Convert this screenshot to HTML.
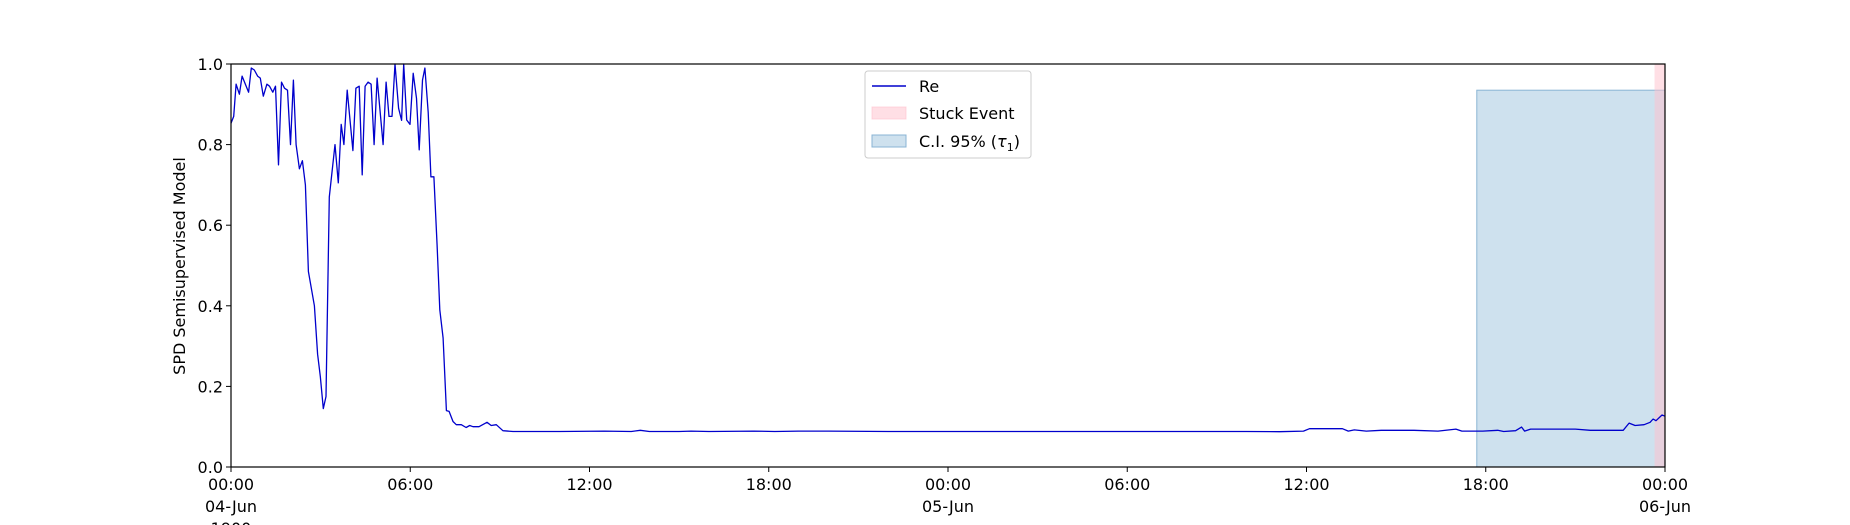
<!DOCTYPE html>
<html><head><meta charset="utf-8">
<style>
html,body{margin:0;padding:0;background:#fff;}
svg{display:block;font-family:"DejaVu Sans","Liberation Sans",sans-serif;}
</style></head>
<body>
<svg id="chart" width="1850" height="525" viewBox="0 0 1850 525">
<rect x="0" y="0" width="1850" height="525" fill="#fff"/>
<g id="bands"></g>
<g id="series"></g>
<g id="axes"></g>
<text transform="translate(185,266) rotate(-90)" text-anchor="middle" font-size="16" fill="#000">SPD Semisupervised Model</text>
<g id="legend">
  <rect x="865" y="71" width="166" height="87" rx="3" fill="#fff" stroke="#ccc" stroke-width="1"/>
  <g>
    <line x1="872" y1="86" x2="906" y2="86" stroke="#0000cc" stroke-width="1.5"/>
    <text x="919" y="92" font-size="16">Re</text>
  </g>
  <g>
    <rect x="872" y="107" width="34" height="12" fill="#ffc0cb" fill-opacity="0.5" stroke="#ffc0cb" stroke-opacity="0.6"/>
    <text x="919" y="119" font-size="16">Stuck Event</text>
  </g>
  <g>
    <rect x="872" y="135" width="34" height="12" fill="#a6c8e0" fill-opacity="0.55" stroke="#8ab4d4"/>
    <text x="919" y="147" font-size="16">C.I. 95% (<tspan font-style="italic">τ</tspan><tspan font-size="11" dy="4">1</tspan><tspan dy="-4">)</tspan></text>
  </g>
</g>
</svg>
<script>
// data (hours since 04-Jun 00:00, value)
const hours = [0,0.09,0.17,0.28,0.37,0.59,0.68,0.78,0.89,0.98,1.08,1.2,1.29,1.4,1.49,1.59,1.69,1.79,1.89,1.99,2.09,2.18,2.29,2.39,2.49,2.59,2.79,2.9,2.99,3.09,3.18,3.29,3.48,3.59,3.69,3.78,3.89,4.08,4.18,4.29,4.39,4.49,4.59,4.69,4.79,4.89,5.09,5.19,5.29,5.39,5.49,5.61,5.71,5.78,5.88,5.99,6.1,6.21,6.3,6.41,6.49,6.6,6.69,6.79,6.9,6.99,7.1,7.21,7.3,7.43,7.54,7.71,7.87,7.99,8.1,8.3,8.57,8.71,8.88,9.1,9.44,11,12.5,13.4,13.7,14,15,15.4,16,17.5,18.2,19,20,22,26,30,34,35.1,35.9,36.1,37.2,37.4,37.6,38.0,38.5,39.6,40.4,41.0,41.2,41.9,42.4,42.6,43.0,43.2,43.3,43.5,45.0,45.5,46.6,46.8,47.0,47.3,47.5,47.6,47.7,47.9,48.0];
const values = [0.853,0.87,0.95,0.925,0.97,0.93,0.99,0.985,0.97,0.965,0.92,0.95,0.945,0.93,0.945,0.75,0.955,0.94,0.935,0.80,0.96,0.80,0.74,0.76,0.70,0.485,0.40,0.28,0.225,0.145,0.175,0.67,0.80,0.705,0.85,0.80,0.935,0.785,0.94,0.945,0.725,0.945,0.955,0.95,0.80,0.965,0.80,0.955,0.87,0.87,1.0,0.89,0.86,1.0,0.861,0.85,0.977,0.915,0.787,0.96,0.99,0.88,0.72,0.72,0.55,0.39,0.32,0.14,0.138,0.113,0.105,0.105,0.098,0.103,0.10,0.10,0.111,0.103,0.105,0.09,0.088,0.088,0.089,0.088,0.091,0.088,0.088,0.089,0.088,0.089,0.088,0.089,0.089,0.088,0.088,0.088,0.088,0.0877,0.089,0.095,0.095,0.089,0.092,0.089,0.091,0.091,0.089,0.094,0.089,0.089,0.091,0.088,0.09,0.099,0.089,0.094,0.094,0.091,0.091,0.109,0.103,0.105,0.111,0.119,0.115,0.129,0.126];
const ciBand = [41.7, 48, 0.935];   // start h, end h, top value
const stuckBand = [47.65, 48];     // start h, end h
const xTickHours = [0,6,12,18,24,30,36,42,48];
const xTickLabels = [["00:00","04-Jun","1900"],["06:00"],["12:00"],["18:00"],["00:00","05-Jun"],["06:00"],["12:00"],["18:00"],["00:00","06-Jun"]];
const yTicks = [0,0.2,0.4,0.6,0.8,1.0];
const yTickLabels = ["0.0","0.2","0.4","0.6","0.8","1.0"];

const L=231,R=1665,T=64,B=467;
const xs=h=>L+(R-L)*h/48;
const ys=v=>B-(B-T)*v;
const NS="http://www.w3.org/2000/svg";
function mk(tag,attrs,parent){const e=document.createElementNS(NS,tag);for(const k in attrs)e.setAttribute(k,attrs[k]);parent.appendChild(e);return e;}

const bands=document.getElementById('bands');
const ci=mk('rect',{x:xs(ciBand[0]),y:ys(ciBand[2]),width:xs(ciBand[1])-xs(ciBand[0]),height:ys(0)-ys(ciBand[2]),fill:'#a6c8e0','fill-opacity':0.55,stroke:'#8ab4d4','stroke-width':1},bands);


const st=mk('rect',{x:xs(stuckBand[0]),y:T,width:xs(stuckBand[1])-xs(stuckBand[0]),height:B-T,fill:'#ffc0cb','fill-opacity':0.5},bands);



const series=document.getElementById('series');
const pts=hours.map((h,i)=>xs(h).toFixed(1)+','+ys(values[i]).toFixed(1)).join(' ');
const line=mk('polyline',{points:pts,fill:'none',stroke:'#0000cc','stroke-width':1.3,'stroke-linejoin':'round'},series);



const axes=document.getElementById('axes');
const frame=mk('rect',{x:L,y:T,width:R-L,height:B-T,fill:'none',stroke:'#000','stroke-width':1.2},axes);


xTickHours.forEach((h,i)=>{
  const x=xs(h);
  mk('line',{x1:x,y1:B,x2:x,y2:B+5,stroke:'#000','stroke-width':1},axes);
  const t=mk('text',{x:x,y:B+23,'text-anchor':'middle','font-size':16},axes);
  
  
  xTickLabels[i].forEach((s,j)=>{const ts=mk('tspan',{x:x,dy:j?22:0},t);ts.textContent=s;});
});
yTicks.forEach((v,i)=>{
  const y=ys(v);
  mk('line',{x1:L-5,y1:y,x2:L,y2:y,stroke:'#000','stroke-width':1},axes);
  const t=mk('text',{x:L-8,y:y+6,'text-anchor':'end','font-size':16},axes);
  
  
  t.textContent=yTickLabels[i];
});
</script>
</body></html>
